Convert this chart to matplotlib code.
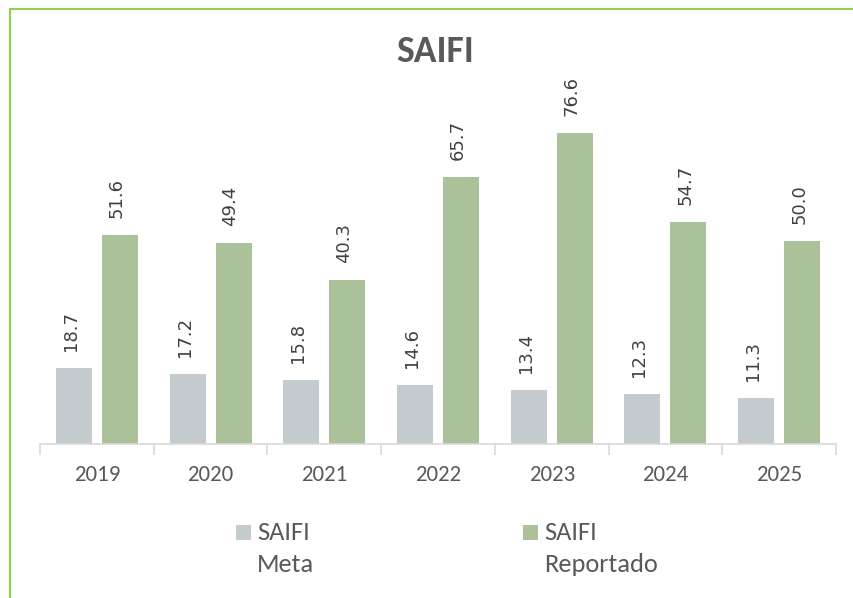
import matplotlib
matplotlib.use("Agg")
import matplotlib.pyplot as plt
from matplotlib.patches import Rectangle
from matplotlib.lines import Line2D
from matplotlib import font_manager as fm
import numpy as np

years = ["2019", "2020", "2021", "2022", "2023", "2024", "2025"]
meta = [18.7, 17.2, 15.8, 14.6, 13.4, 12.3, 11.3]
reportado = [51.6, 49.4, 40.3, 65.7, 76.6, 54.7, 50.0]
series_names = ["SAIFI\nMeta", "SAIFI\nReportado"]
title = "SAIFI"

c_meta = "#C4CBCF"
c_rep = "#AAC19A"
c_text = "#595959"
c_label = "#404040"
c_axis = "#D9D9D9"
c_border = "#92D050"

avail = {f.name for f in fm.fontManager.ttflist}
ui_font = next((f for f in ["Carlito", "Lato", "Open Sans", "DejaVu Sans"] if f in avail), "DejaVu Sans")

W, H = 854, 598
fig = plt.figure(figsize=(W / 100, H / 100), dpi=100)

ax_left, ax_right, ax_bottom = 40, 836, 444
ymax = 90
px_per_unit = 4.06
ax_top = ax_bottom - ymax * px_per_unit
ax = fig.add_axes([ax_left / W, 1 - ax_bottom / H, (ax_right - ax_left) / W, (ax_bottom - ax_top) / H])

x = np.arange(len(years))
off = 0.202
bw = 0.317
b1 = ax.bar(x - off, meta, bw, color=c_meta, zorder=2)
b2 = ax.bar(x + off, reportado, bw, color=c_rep, zorder=2)

for bars, vals in ((b1, meta), (b2, reportado)):
    for rect, v in zip(bars, vals):
        ax.annotate(f"{v:.1f}", (rect.get_x() + rect.get_width() / 2, rect.get_height()),
                    xytext=(-3, 17), textcoords="offset pixels", rotation=90,
                    ha="center", va="bottom", fontsize=13, color=c_label,
                    family="DejaVu Sans")

ax.set_xlim(-0.5, len(years) - 0.5)
ax.set_ylim(0, ymax)
ax.set_yticks([])
for s in ["top", "right", "left"]:
    ax.spines[s].set_visible(False)
ax.spines["bottom"].set_color(c_axis)
ax.spines["bottom"].set_linewidth(1.2)
ax.set_xticks(x)
ax.set_xticklabels(years, fontsize=16.5, color=c_text, family=ui_font)
ax.tick_params(axis="x", which="major", length=0, pad=15)
ax.set_xticks(np.arange(-0.5, len(years)), minor=True)
ax.tick_params(axis="x", which="minor", length=8, color=c_axis, width=1.2)

fig.text(435 / W, 1 - 52 / H, title, ha="center", va="center", fontsize=27,
         fontweight="bold", color=c_text, family=ui_font)

# legend
leg_items = [(236, c_meta, series_names[0]), (523, c_rep, series_names[1])]
for mx, col, name in leg_items:
    fig.add_artist(Rectangle((mx / W, 1 - 540 / H), 15 / W, 15 / H, transform=fig.transFigure,
                             color=col, lw=0))
    lines = name.split("\n")
    for k, ln in enumerate(lines):
        fig.text((mx + 21) / W, 1 - (532 + 33 * k) / H, ln, ha="left", va="center",
                 fontsize=19, color=c_text, family=ui_font)

# chart border (partially visible)
fig.add_artist(Line2D([10 / W, 10 / W], [0, 1 - 9 / H], transform=fig.transFigure, color=c_border, lw=1.5))
fig.add_artist(Line2D([10 / W, 1], [1 - 9 / H, 1 - 9 / H], transform=fig.transFigure, color=c_border, lw=1.5))

fig.savefig("out.png", dpi=100)
